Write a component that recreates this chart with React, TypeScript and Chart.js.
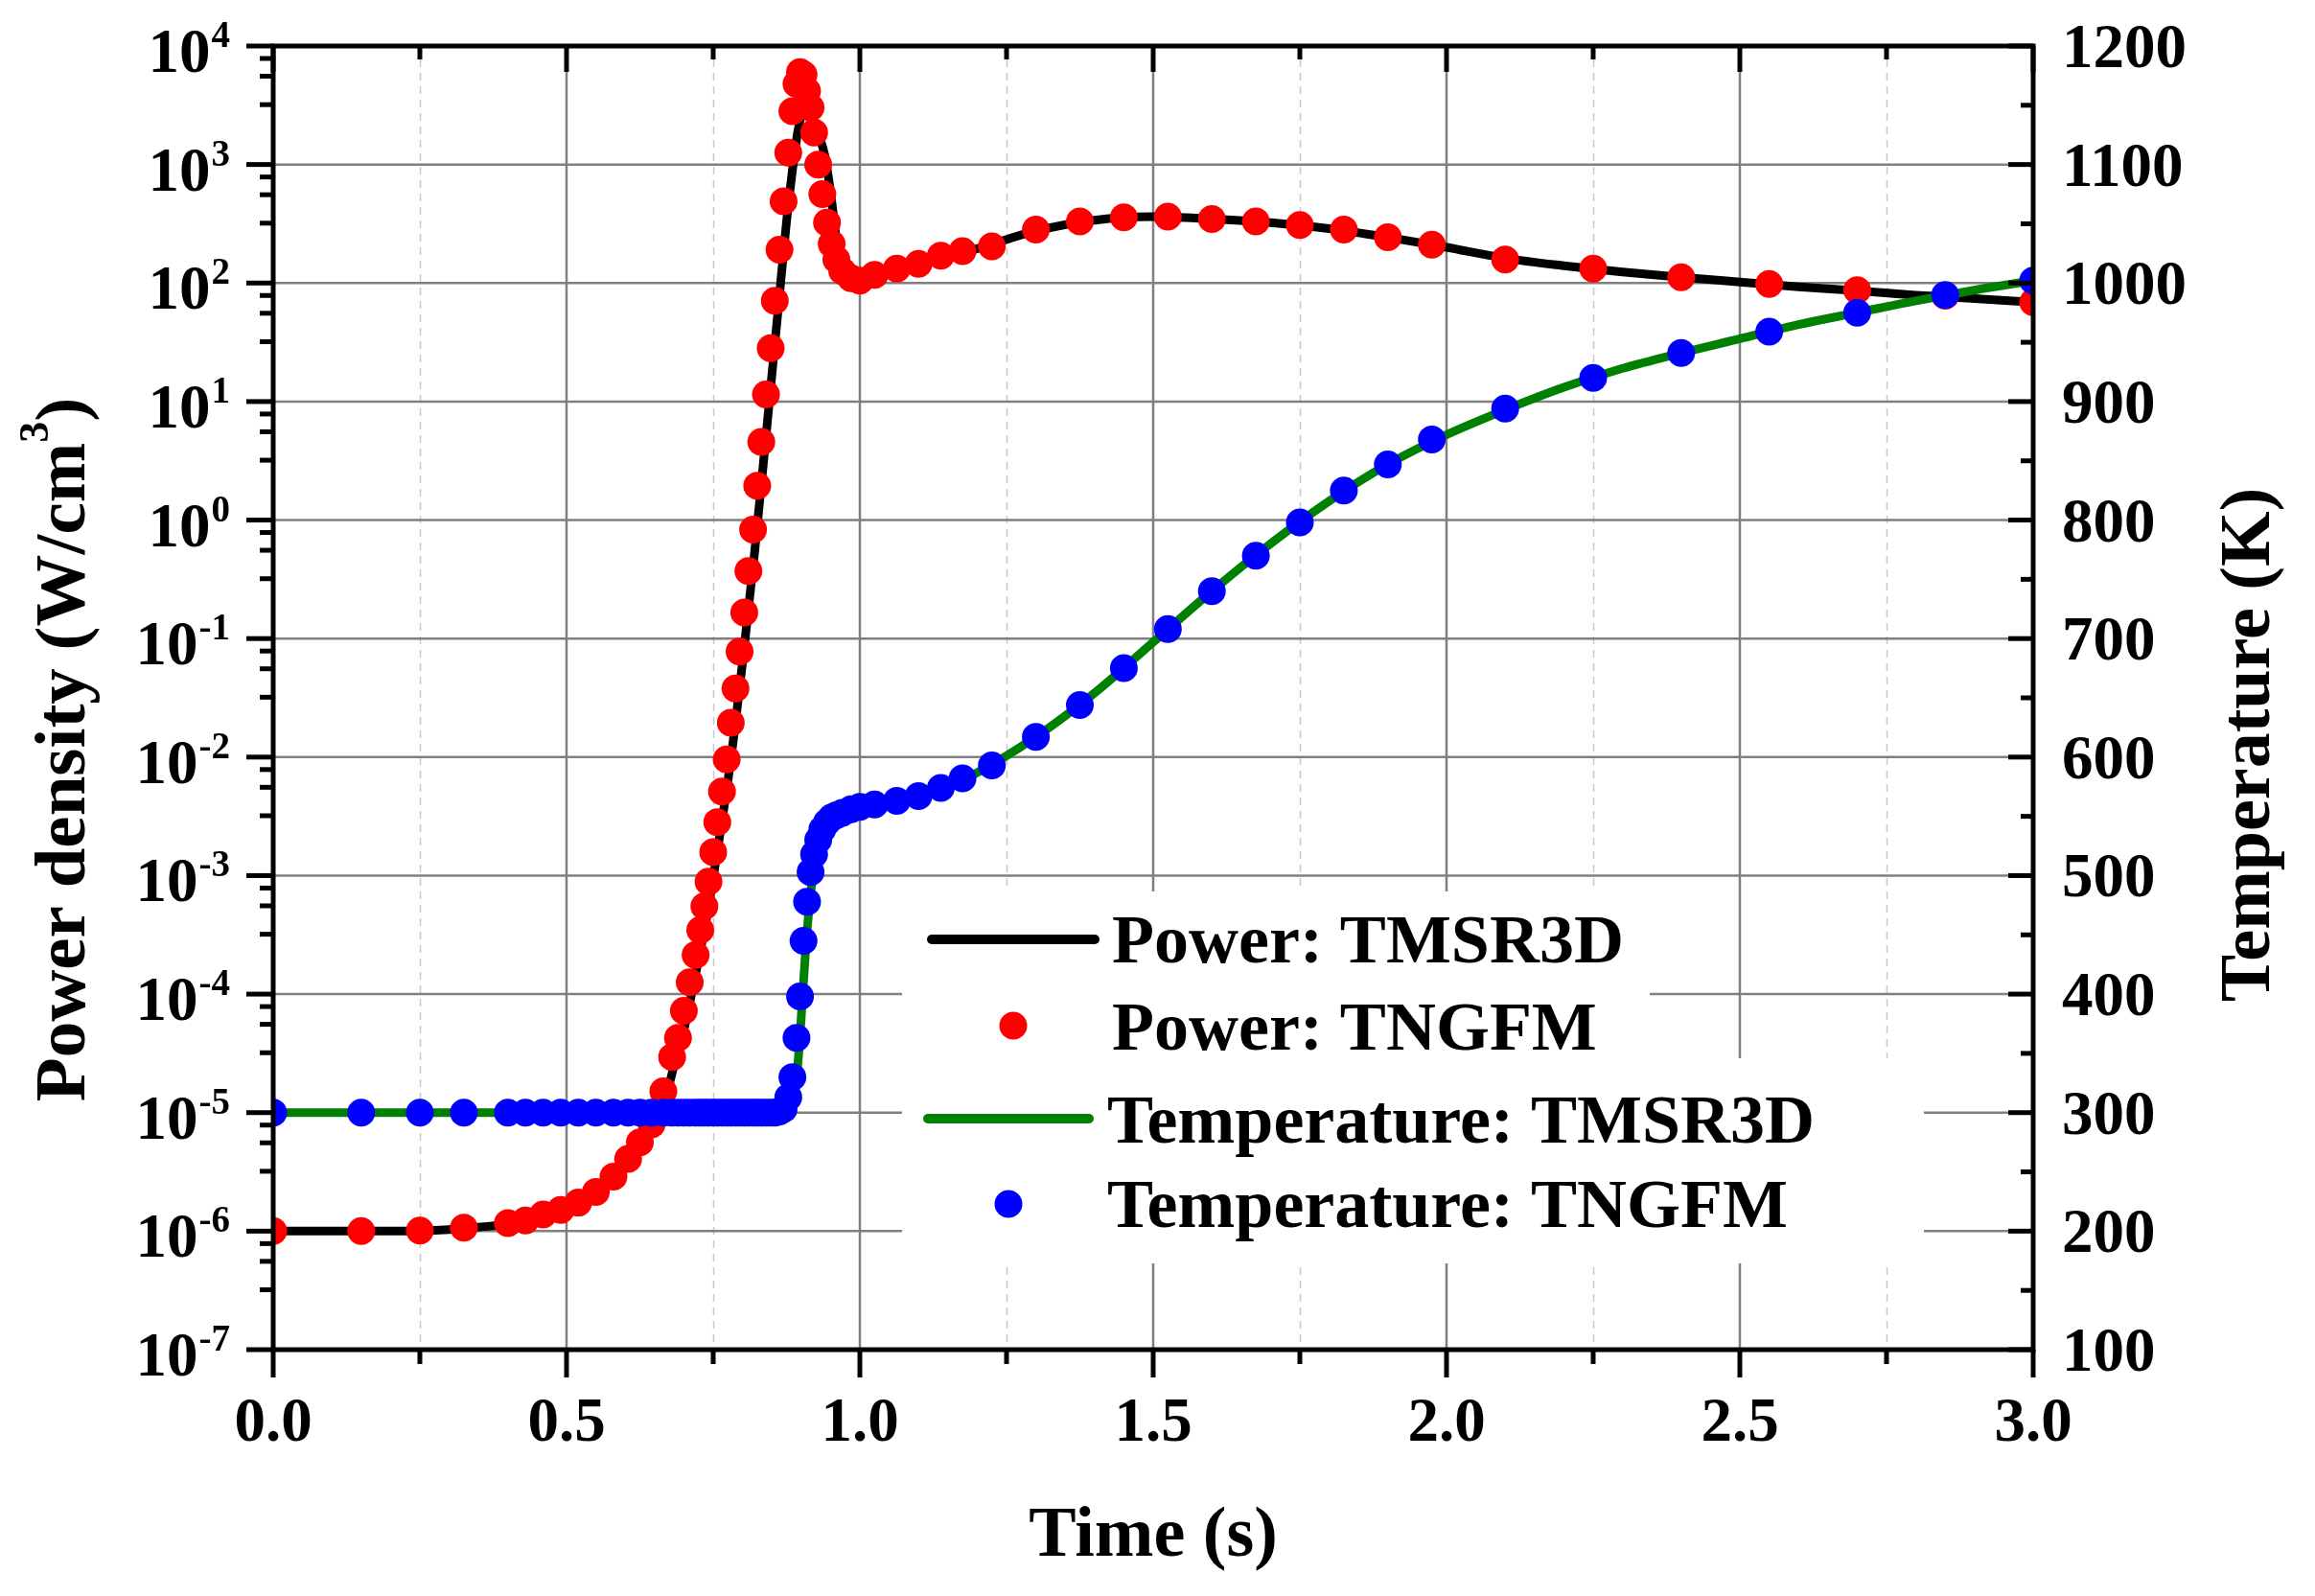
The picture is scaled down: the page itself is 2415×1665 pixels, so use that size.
import React, { useEffect, useRef } from "react";
import { Chart, registerables } from "chart.js";

Chart.register(...registerables);

const FONT = '"Liberation Serif", "Times New Roman", Times, serif';

// ---- TNGFM results (markers) ----
const tngfmTime = [0, 0.15, 0.25, 0.325, 0.4, 0.43, 0.46, 0.49, 0.52, 0.55, 0.58, 0.605, 0.625, 0.645, 0.665, 0.68, 0.69, 0.7, 0.71, 0.72, 0.728, 0.735, 0.742, 0.75, 0.757, 0.765, 0.773, 0.78, 0.788, 0.795, 0.803, 0.81, 0.818, 0.825, 0.832, 0.84, 0.848, 0.855, 0.863, 0.87, 0.878, 0.885, 0.892, 0.898, 0.904, 0.91, 0.916, 0.922, 0.929, 0.936, 0.944, 0.952, 0.96, 0.97, 0.985, 1.0, 1.025, 1.063, 1.1, 1.138, 1.175, 1.225, 1.3, 1.375, 1.45, 1.525, 1.6, 1.675, 1.75, 1.825, 1.9, 1.975, 2.1, 2.25, 2.4, 2.55, 2.7, 2.85, 3.0];
const tngfmPower = [1.0e-6, 1.0e-6, 1.01e-6, 1.07e-6, 1.17e-6, 1.23e-6, 1.38e-6, 1.51e-6, 1.74e-6, 2.14e-6, 2.88e-6, 4.07e-6, 5.62e-6, 7.94e-6, 1.51e-5, 2.95e-5, 4.27e-5, 7.24e-5, 1.26e-4, 2.14e-4, 3.47e-4, 5.5e-4, 8.91e-4, 1.58e-3, 2.82e-3, 5.13e-3, 9.55e-3, 1.95e-2, 3.8e-2, 7.76e-2, 0.166, 0.372, 0.832, 1.95, 4.57, 11.5, 28.2, 70.8, 191, 490, 1259, 2818, 4786, 6026, 5754, 4169, 3020, 1862, 1000, 562, 324, 214, 158, 126, 110, 105, 117, 132, 145, 170, 186, 204, 282, 331, 359, 363, 347, 331, 309, 282, 243, 211, 158, 132, 112, 98, 87, 78, 69];
const tngfmTemp = [300, 300, 300, 300, 300, 300, 300, 300, 300, 300, 300, 300, 300, 300, 300, 300, 300, 300, 300, 300, 300, 300, 300, 300, 300, 300, 300, 300, 300, 300, 300, 300, 300, 300, 300, 300, 300, 300, 301, 303, 313, 330, 363, 398, 445, 478, 503, 518, 530, 539, 545, 549, 551, 553, 556, 558, 560, 563, 567, 574, 582, 593, 617, 644, 675, 708, 740, 770, 798, 825, 847, 868, 894, 920, 941, 959, 975, 990, 1002];

// ---- TMSR3D results (lines) ----
const tmsrPowerTime = [0, 0.1, 0.2, 0.3, 0.35, 0.4, 0.45, 0.5, 0.55, 0.6, 0.625, 0.65, 0.67, 0.685, 0.7, 0.72, 0.74, 0.76, 0.78, 0.8, 0.82, 0.84, 0.86, 0.875, 0.885, 0.895, 0.903, 0.91, 0.918, 0.925, 0.932, 0.94, 0.95, 0.96, 0.97, 0.98, 1.0, 1.05, 1.1, 1.2, 1.3, 1.4, 1.5, 1.6, 1.7, 1.8, 1.9, 2.0, 2.1, 2.2, 2.3, 2.4, 2.5, 2.6, 2.7, 2.8, 2.9, 3.0];
const tmsrPower = [1.0e-6, 1.0e-6, 1.0e-6, 1.03e-6, 1.08e-6, 1.15e-6, 1.3e-6, 1.55e-6, 2.0e-6, 3.4e-6, 4.9e-6, 7.6e-6, 1.4e-5, 2.7e-5, 5.0e-5, 1.48e-4, 4.8e-4, 2.0e-3, 9.5e-3, 6.3e-2, 0.5, 5.1, 55, 330, 891, 1995, 2818, 2951, 2512, 2089, 1660, 1202, 589, 240, 158, 132, 115, 126, 145, 195, 275, 339, 363, 347, 324, 288, 243, 200, 162, 140, 124, 112, 102, 93, 86, 79, 74, 69];
const tmsrTempTime = [0, 0.5, 0.8, 0.87, 0.88, 0.888, 0.895, 0.902, 0.908, 0.914, 0.92, 0.927, 0.935, 0.945, 0.96, 0.98, 1.0, 1.1, 1.2, 1.3, 1.4, 1.5, 1.6, 1.7, 1.8, 1.9, 2.0, 2.1, 2.2, 2.3, 2.4, 2.5, 2.6, 2.7, 2.8, 2.9, 3.0];
const tmsrTemp = [300, 300, 300, 300.5, 303, 315, 345, 395, 440, 475, 500, 518, 532, 542, 550, 555, 558, 566, 587, 617, 654, 697, 740, 780, 816, 847, 872, 893, 912, 928, 941, 953, 965, 975, 985, 994, 1002];

// ---- axes ----
const xMajorTicks = [0, 0.5, 1.0, 1.5, 2.0, 2.5, 3.0];
const xTickLabels = ["0.0", "0.5", "1.0", "1.5", "2.0", "2.5", "3.0"];
const xMinorTicks = [0.25, 0.75, 1.25, 1.75, 2.25, 2.75];
const yExponents = [4, 3, 2, 1, 0, -1, -2, -3, -4, -5, -6, -7];
const yMinorFractions = [0.785, 0.556, 0.32];
const tempTicks = [100, 200, 300, 400, 500, 600, 700, 800, 900, 1000, 1100, 1200];
const tempMinorTicks = [150, 250, 350, 450, 550, 650, 750, 850, 950, 1050, 1150];
const legendLabels = ["Power: TMSR3D", "Power: TNGFM", "Temperature: TMSR3D", "Temperature: TNGFM"];
const seriesColors = ["#000000", "#ff0000", "#008000", "#0000ff"];

const toXY = (xs: number[], ys: number[]) => xs.map((x, i) => ({ x, y: ys[i] }));

const framePlugin = {
  id: "frame",
  beforeDatasetsDraw(chart: any) {
    const { ctx, chartArea: a, scales } = chart;
    const xs = scales.x;
    const ys = scales.y;
    ctx.save();
    // minor dashed vertical grid
    ctx.strokeStyle = "#c8c8c8";
    ctx.lineWidth = 1.5;
    ctx.setLineDash([8, 6]);
    for (const v of xMinorTicks) {
      const px = Math.round(xs.getPixelForValue(v)) + 0.5;
      ctx.beginPath();
      ctx.moveTo(px, a.top);
      ctx.lineTo(px, a.bottom);
      ctx.stroke();
    }
    ctx.setLineDash([]);
    ctx.strokeStyle = "#808080";
    ctx.lineWidth = 2.5;
    for (const v of xMajorTicks) {
      if (v <= 0 || v >= 3) continue;
      const px = xs.getPixelForValue(v);
      ctx.beginPath();
      ctx.moveTo(px, a.top);
      ctx.lineTo(px, a.bottom);
      ctx.stroke();
    }
    for (const e of yExponents) {
      if (e >= 4 || e <= -7) continue;
      const py = ys.getPixelForValue(Math.pow(10, e));
      ctx.beginPath();
      ctx.moveTo(a.left, py);
      ctx.lineTo(a.right, py);
      ctx.stroke();
    }
    // legend background (covers grid)
    ctx.fillStyle = "#ffffff";
    ctx.fillRect(941, 930, 780, 174);
    ctx.fillRect(941, 1104, 1066, 214);
    ctx.restore();
  },
  afterDatasetsDraw(chart: any) {
    const { ctx, chartArea: a, scales } = chart;
    const xs = scales.x;
    const ys = scales.y;
    const y2 = scales.y2;
    ctx.save();
    ctx.strokeStyle = "#000";
    ctx.fillStyle = "#000";
    ctx.lineCap = "butt";

    // frame
    ctx.lineWidth = 5;
    ctx.lineJoin = "miter";
    ctx.strokeRect(a.left, a.top, a.right - a.left, a.bottom - a.top);

    const seg = (x1: number, y1: number, x2: number, y2v: number) => {
      ctx.beginPath();
      ctx.moveTo(x1, y1);
      ctx.lineTo(x2, y2v);
      ctx.stroke();
    };

    ctx.lineWidth = 5;
    // x ticks: bottom outward, top inward
    for (const v of xMajorTicks) {
      const px = xs.getPixelForValue(v);
      seg(px, a.bottom, px, a.bottom + 29);
      seg(px, a.top, px, a.top + 27);
    }
    for (const v of xMinorTicks) {
      const px = xs.getPixelForValue(v);
      seg(px, a.bottom, px, a.bottom + 15);
      seg(px, a.top, px, a.top + 14);
    }
    // left y ticks outward
    for (const e of yExponents) {
      const py = ys.getPixelForValue(Math.pow(10, e));
      seg(a.left - 28, py, a.left, py);
      if (e > -7) {
        for (const f of yMinorFractions) {
          const pm = ys.getPixelForValue(f * Math.pow(10, e));
          seg(a.left - 14, pm, a.left, pm);
        }
      }
    }
    // right y ticks inward
    for (const v of tempTicks) {
      const py = y2.getPixelForValue(v);
      seg(a.right - 26, py, a.right, py);
    }
    for (const v of tempMinorTicks) {
      const py = y2.getPixelForValue(v);
      seg(a.right - 13, py, a.right, py);
    }

    // x tick labels
    ctx.font = `bold 65px ${FONT}`;
    ctx.textAlign = "center";
    ctx.textBaseline = "alphabetic";
    xMajorTicks.forEach((v, i) => {
      ctx.fillText(xTickLabels[i], xs.getPixelForValue(v), a.bottom + 95);
    });

    // left labels 10^n
    const right = a.left - 45;
    for (const e of yExponents) {
      const py = ys.getPixelForValue(Math.pow(10, e));
      const exp = String(e);
      ctx.font = `bold 39px ${FONT}`;
      const ew = ctx.measureText(exp).width;
      ctx.textAlign = "left";
      ctx.fillText(exp, right - ew, py + 1);
      ctx.font = `bold 65px ${FONT}`;
      ctx.textAlign = "right";
      ctx.fillText("10", right - ew - 1, py + 27);
    }

    // right labels
    ctx.font = `bold 65px ${FONT}`;
    ctx.textAlign = "left";
    for (const v of tempTicks) {
      ctx.fillText(String(v), a.right + 30, y2.getPixelForValue(v) + 22);
    }

    // x title
    ctx.font = `bold 74px ${FONT}`;
    ctx.textAlign = "center";
    ctx.fillText("Time (s)", (a.left + a.right) / 2, a.bottom + 215);

    // left title with superscript
    ctx.save();
    ctx.translate(88, 782);
    ctx.rotate(-Math.PI / 2);
    const t1 = "Power density (W/cm";
    const t2 = "3";
    const t3 = ")";
    ctx.font = `bold 75px ${FONT}`;
    const w1 = ctx.measureText(t1).width;
    const w3 = ctx.measureText(t3).width;
    ctx.font = `bold 44px ${FONT}`;
    const w2 = ctx.measureText(t2).width;
    let sx = -(w1 + w2 + w3) / 2;
    ctx.textAlign = "left";
    ctx.font = `bold 75px ${FONT}`;
    ctx.fillText(t1, sx, 0);
    sx += w1;
    ctx.font = `bold 44px ${FONT}`;
    ctx.fillText(t2, sx, -38);
    sx += w2;
    ctx.font = `bold 75px ${FONT}`;
    ctx.fillText(t3, sx, 0);
    ctx.restore();

    // right title
    ctx.save();
    ctx.translate(2367, 777);
    ctx.rotate(-Math.PI / 2);
    ctx.font = `bold 74px ${FONT}`;
    ctx.textAlign = "center";
    ctx.fillText("Temperature (K)", 0, 0);
    ctx.restore();

    // legend
    ctx.font = `bold 72px ${FONT}`;
    ctx.textAlign = "left";
    ctx.lineCap = "round";
    ctx.lineWidth = 10;
    ctx.strokeStyle = seriesColors[0];
    seg(972, 980, 1142, 980);
    ctx.fillStyle = "#000";
    ctx.fillText(legendLabels[0], 1160, 1004);

    ctx.fillStyle = seriesColors[1];
    ctx.beginPath();
    ctx.arc(1057, 1070, 14.5, 0, Math.PI * 2);
    ctx.fill();
    ctx.fillStyle = "#000";
    ctx.fillText(legendLabels[1], 1160, 1095);

    ctx.strokeStyle = seriesColors[2];
    seg(968, 1167, 1136, 1167);
    ctx.fillStyle = "#000";
    ctx.fillText(legendLabels[2], 1155, 1192);

    ctx.fillStyle = seriesColors[3];
    ctx.beginPath();
    ctx.arc(1052, 1256, 14.5, 0, Math.PI * 2);
    ctx.fill();
    ctx.fillStyle = "#000";
    ctx.fillText(legendLabels[3], 1155, 1280);

    ctx.restore();
  },
};

export default function App() {
  const ref = useRef<HTMLCanvasElement | null>(null);
  useEffect(() => {
    if (!ref.current) return;
    const chart = new Chart(ref.current, {
      type: "scatter",
      data: {
        datasets: [
          {
            label: legendLabels[0],
            data: toXY(tmsrPowerTime, tmsrPower),
            yAxisID: "y",
            showLine: true,
            borderColor: seriesColors[0],
            borderWidth: 9,
            pointRadius: 0,
            cubicInterpolationMode: "monotone",
            tension: 0.4,
            order: 4,
          },
          {
            label: legendLabels[1],
            data: toXY(tngfmTime, tngfmPower),
            yAxisID: "y",
            showLine: false,
            pointRadius: 14.5,
            pointBorderWidth: 0,
            pointBackgroundColor: seriesColors[1],
            pointBorderColor: seriesColors[1],
            order: 3,
          },
          {
            label: legendLabels[2],
            data: toXY(tmsrTempTime, tmsrTemp),
            yAxisID: "y2",
            showLine: true,
            borderColor: seriesColors[2],
            borderWidth: 9,
            pointRadius: 0,
            cubicInterpolationMode: "monotone",
            tension: 0.4,
            order: 2,
          },
          {
            label: legendLabels[3],
            data: toXY(tngfmTime, tngfmTemp),
            yAxisID: "y2",
            showLine: false,
            pointRadius: 14.5,
            pointBorderWidth: 0,
            pointBackgroundColor: seriesColors[3],
            pointBorderColor: seriesColors[3],
            order: 1,
          },
        ],
      },
      options: {
        animation: false,
        responsive: true,
        maintainAspectRatio: false,
        devicePixelRatio: 1,
        layout: { padding: { left: 285, right: 294, top: 48, bottom: 257 } },
        plugins: { legend: { display: false }, tooltip: { enabled: false } },
        events: [],
        scales: {
          x: { type: "linear", min: 0, max: 3, display: false },
          y: { type: "logarithmic", min: 1e-7, max: 1e4, display: false },
          y2: { type: "linear", min: 100, max: 1200, display: false },
        },
      } as any,
      plugins: [framePlugin],
    });
    return () => chart.destroy();
  }, []);
  return (
    <div style={{ position: "absolute", left: 0, top: 0, width: 2415, height: 1665, background: "#fff" }}>
      <canvas ref={ref} />
    </div>
  );
}
